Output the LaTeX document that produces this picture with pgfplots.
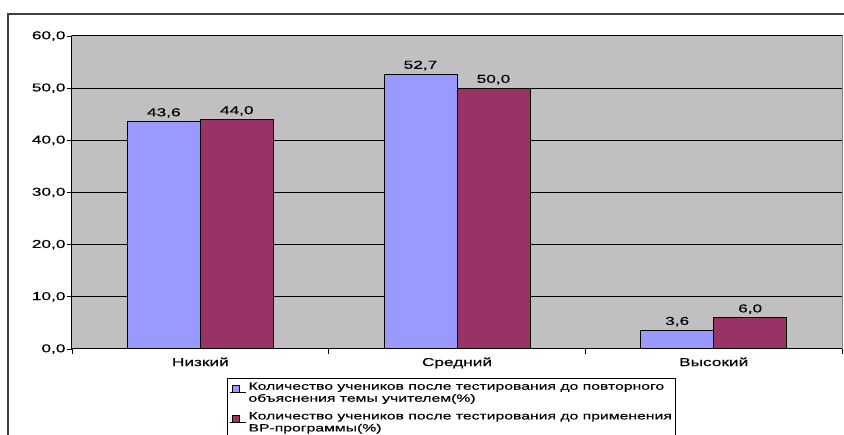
\documentclass[border=0pt]{standalone}
\usepackage{pgfplots}
\pgfplotsset{compat=1.18}
\usepackage{fontspec}
\setmainfont{Liberation Sans}[FakeStretch=1.5, FakeBold=0.4]
\definecolor{barblue}{RGB}{153,153,255}
\definecolor{barred}{RGB}{153,51,102}
\definecolor{plotgray}{RGB}{192,192,192}
\begin{document}
\begin{tikzpicture}[x=1pt,y=1pt]
\path[use as bounding box] (0,0) rectangle (844,435);
\draw[line width=1.3pt, black!75] (8,0) -- (8,421) -- (844,421);
\begin{axis}[
  at={(72pt,86pt)}, anchor=south west,
  scale only axis, width=770pt, height=313pt,
  ymin=0, ymax=60, ytick={0,10,...,60},
  xmin=-0.5, xmax=2.5,
  xtick={-0.5,0.5,1.5,2.5}, xticklabels={},
  extra x ticks={0,1,2},
  extra x tick labels={Низкий,Средний,Высокий},
  extra x tick style={major tick length=0pt, xticklabel style={yshift=-5pt}},
  tick align=outside, major tick length=5pt,
  tick style={black, line width=0.8pt},
  axis x line*=bottom, axis y line*=left,
  axis line style={-, black, line width=1pt},
  axis background/.style={fill=plotgray, draw=black!50, line width=1pt},
  ymajorgrids, grid style={black, line width=1pt},
  tick label style={font=\fontsize{11.5}{13}\selectfont},
  yticklabel style={xshift=2pt, /pgf/number format/.cd, fixed, fixed zerofill, precision=1, use comma, assume math mode=true},
  ybar=0pt, bar width=73pt,
  nodes near coords,
  nodes near coords style={font=\fontsize{11.5}{13}\selectfont, /pgf/number format/.cd, fixed, fixed zerofill, precision=1, use comma, assume math mode=true},
  legend style={at={(0.2013,-0.0927)}, anchor=north west, draw=black, line width=1pt,
    font=\fontsize{10.5}{12}\selectfont, cells={anchor=west, align=left}, inner sep=2pt,
    row sep=5pt},
  legend cell align=left,
  legend image code/.code={\path (-2pt,0pt) -- (14pt,0pt); \draw[#1, line width=0.8pt] (0pt,0pt) rectangle (7pt,7pt);},
]
\addplot[fill=barblue, draw=black, line width=1pt] coordinates {(0,43.6) (1,52.7) (2,3.6)};
\addlegendentry{Количество учеников после  тестирования  до повторного\\объяснения темы учителем(\%)}
\addplot[fill=barred, draw=black, line width=1pt] coordinates {(0,44.0) (1,50.0) (2,6.0)};
\addlegendentry{Количество учеников после  тестирования  до применения\\ВР-программы(\%)}
\end{axis}
\end{tikzpicture}
\end{document}
